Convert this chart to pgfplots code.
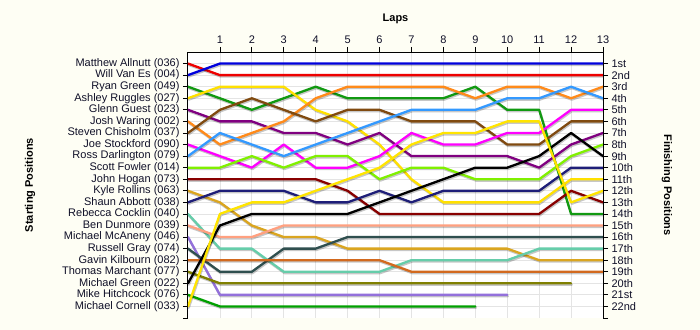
\documentclass[border=0pt]{standalone}
\usepackage{pgfplots}
\pgfplotsset{compat=1.18}
\usepackage{pgfplotstable}
\usepackage{fontspec}
\setmainfont{Liberation Sans}

\definecolor{bgcream}{HTML}{FEFEF4}
\definecolor{gridgray}{HTML}{E4E4E4}
\definecolor{labelink}{HTML}{101028}
\definecolor{cAllnutt}{HTML}{EE0000}
\definecolor{cVanEs}{HTML}{0000DD}
\definecolor{cRGreen}{HTML}{119911}
\definecolor{cRuggles}{HTML}{FFE000}
\definecolor{cGuest}{HTML}{800080}
\definecolor{cWaring}{HTML}{FF8A1A}
\definecolor{cChisholm}{HTML}{804A10}
\definecolor{cStockford}{HTML}{FF00FF}
\definecolor{cDarlington}{HTML}{3399FF}
\definecolor{cFowler}{HTML}{80F000}
\definecolor{cHogan}{HTML}{880000}
\definecolor{cRollins}{HTML}{DAA520}
\definecolor{cAbbott}{HTML}{1E1E78}
\definecolor{cCocklin}{HTML}{66CDAA}
\definecolor{cDunmore}{HTML}{FFA080}
\definecolor{cMcAneny}{HTML}{9370DB}
\definecolor{cGray}{HTML}{2F4F4F}
\definecolor{cKilbourn}{HTML}{D2691E}
\definecolor{cMarchant}{HTML}{808000}
\definecolor{cMGreen}{HTML}{000000}
\definecolor{cHitchcock}{HTML}{00A000}
\definecolor{cCornell}{HTML}{FFE400}

% Running position of every driver at the end of each lap (nan = retired)
\pgfplotstableread{
lap Allnutt VanEs RGreen Ruggles Guest Waring Chisholm Stockford Darlington Fowler Hogan Rollins Abbott Cocklin Dunmore McAneny Gray Kilbourn Marchant MGreen Hitchcock Cornell
0   1 2 3 4  5 6 7 8  9 10 11 12 13 14 15 16 17 18 19 20 21 22
1   2 1 4 3  6 8 5 9  7 10 11 13 12 17 16 21 19 18 20 15 22 14
2   2 1 5 3  6 7 4 10 8 9  11 15 12 17 16 21 19 18 20 14 22 13
3   2 1 4 3  7 6 5 8  9 10 11 16 12 19 15 21 17 18 20 14 22 13
4   2 1 3 5  7 4 6 10 8 9  11 16 13 19 15 21 17 18 20 14 22 12
5   2 1 4 6  8 3 5 10 7 9  12 17 13 19 15 21 16 18 20 14 22 11
6   2 1 4 8  7 3 5 9  6 11 14 17 12 19 15 21 16 18 20 13 22 10
7   2 1 4 11 9 3 6 7  5 10 14 17 13 18 15 21 16 19 20 12 22 8
8   2 1 4 13 9 3 6 8  5 10 14 17 12 18 15 21 16 19 20 11 22 7
9   2 1 3 13 9 4 6 8  5 11 14 17 12 18 15 21 16 19 20 10 22 7
10  2 1 5 13 9 3 8 7  4 11 14 17 12 18 15 21 16 19 20 10 nan 6
11  2 1 5 13 10 3 8 7 4 11 14 18 12 17 15 nan 16 19 20 9 nan 6
12  2 1 14 11 8 4 6 5 3 9  12 18 10 17 15 nan 16 19 20 7 nan 13
13  2 1 14 11 7 3 6 5 4 8  13 18 10 17 15 nan 16 19 nan 9 nan 12
}\laps

\pgfplotsset{
  lap line/.style={
    line width=2.3bp, line join=round, line cap=round,
    preaction={draw=black, draw opacity=0.22, line width=2.3bp,
      transform canvas={shift={(0.7bp,-1.4bp)}}}},
  lap frame/.style={
    at={(0,0)}, anchor=south west,
    scale only axis, width=415bp, height=266bp,
    xmin=0, xmax=13, ymin=0, ymax=23, y dir=reverse,
    tick align=outside, major tick length=5bp,
    tick style={black, line width=0.8bp},
    axis line style={black, line width=1bp},
    ytick={1,...,22},
    extra y ticks={23}, extra y tick labels={},
    extra y tick style={grid=none},
    /pgf/number format/assume math mode=true,
    ticklabel style={font=\fontsize{11bp}{13bp}\selectfont, text=labelink},
    label style={font=\fontsize{11bp}{13bp}\selectfont\bfseries},
  },
}

\begin{document}
\begin{tikzpicture}
\fill[bgcream] (-188bp,-12bp) rectangle (512bp,318bp);

\begin{axis}[
  lap frame,
  axis background/.style={fill=white},
  axis x line*=top, axis y line*=left,
  xtick={1,...,13},
  grid=major, grid style={draw=gridgray, line width=0.8bp},
  yticklabels={Matthew Allnutt (036), Will Van Es (004), Ryan Green (049),
    Ashley Ruggles (027), Glenn Guest (023), Josh Waring (002),
    Steven Chisholm (037), Joe Stockford (090), Ross Darlington (079),
    Scott Fowler (014), John Hogan (073), Kyle Rollins (063),
    Shaun Abbott (038), Rebecca Cocklin (040), Ben Dunmore (039),
    Michael McAneny (046), Russell Gray (074), Gavin Kilbourn (082),
    Thomas Marchant (077), Michael Green (022), Mike Hitchcock (076),
    Michael Cornell (033)},
  title={Laps},
  title style={at={(axis description cs:0.5,1)}, anchor=center, yshift=27bp,
    font=\fontsize{11bp}{13bp}\selectfont\bfseries},
  ylabel={Starting Positions},
  ylabel style={at={(axis description cs:-0.3807,0.5)}, anchor=center},
  unbounded coords=jump,
]
\addplot[lap line, cAllnutt]    table[x=lap, y=Allnutt]    {\laps};
\addplot[lap line, cVanEs]      table[x=lap, y=VanEs]      {\laps};
\addplot[lap line, cRGreen]     table[x=lap, y=RGreen]     {\laps};
\addplot[lap line, cRuggles]    table[x=lap, y=Ruggles]    {\laps};
\addplot[lap line, cGuest]      table[x=lap, y=Guest]      {\laps};
\addplot[lap line, cWaring]     table[x=lap, y=Waring]     {\laps};
\addplot[lap line, cChisholm]   table[x=lap, y=Chisholm]   {\laps};
\addplot[lap line, cStockford]  table[x=lap, y=Stockford]  {\laps};
\addplot[lap line, cDarlington] table[x=lap, y=Darlington] {\laps};
\addplot[lap line, cFowler]     table[x=lap, y=Fowler]     {\laps};
\addplot[lap line, cHogan]      table[x=lap, y=Hogan]      {\laps};
\addplot[lap line, cRollins]    table[x=lap, y=Rollins]    {\laps};
\addplot[lap line, cAbbott]     table[x=lap, y=Abbott]     {\laps};
\addplot[lap line, cCocklin]    table[x=lap, y=Cocklin]    {\laps};
\addplot[lap line, cDunmore]    table[x=lap, y=Dunmore]    {\laps};
\addplot[lap line, cMcAneny]    table[x=lap, y=McAneny]    {\laps};
\addplot[lap line, cGray]       table[x=lap, y=Gray]       {\laps};
\addplot[lap line, cKilbourn]   table[x=lap, y=Kilbourn]   {\laps};
\addplot[lap line, cMarchant]   table[x=lap, y=Marchant]   {\laps};
\addplot[lap line, cMGreen]     table[x=lap, y=MGreen]     {\laps};
\addplot[lap line, cHitchcock]  table[x=lap, y=Hitchcock]  {\laps};
\addplot[lap line, cCornell]    table[x=lap, y=Cornell]    {\laps};
\end{axis}

% finishing positions on the right-hand side
\begin{axis}[
  lap frame,
  axis x line=none, axis y line*=right,
  yticklabels={1st,2nd,3rd,4th,5th,6th,7th,8th,9th,10th,11th,12th,13th,14th,
    15th,16th,17th,18th,19th,20th,21st,22nd},
  ylabel={Finishing Positions},
  ylabel style={at={(axis description cs:1.1542,0.5)}, anchor=center, rotate=180},
]
\end{axis}
\end{tikzpicture}
\end{document}
